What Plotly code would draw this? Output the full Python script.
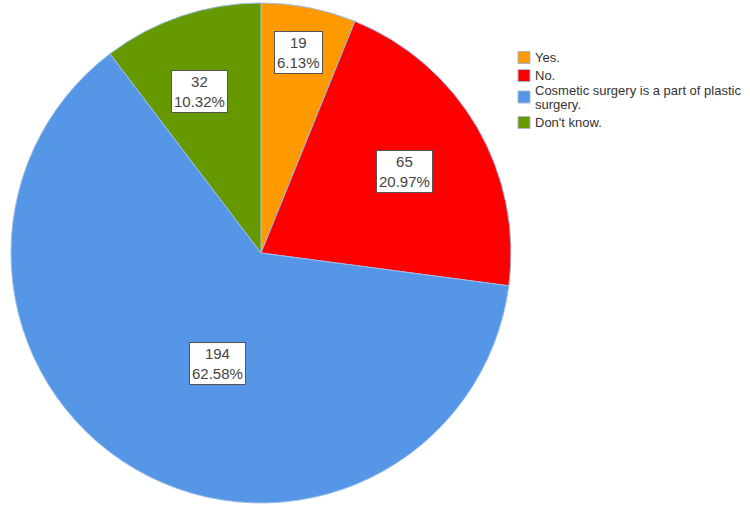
import math
import plotly.graph_objects as go

labels = ["Yes.", "No.", "Cosmetic surgery is a part of plastic<br>surgery.", "Don't know."]
counts = [19, 65, 194, 32]
percents = ["6.13%", "20.97%", "62.58%", "10.32%"]
colors = ["#FF9900", "#FF0000", "#5596E6", "#669900"]

# layout / style (pixels)
W, H = 750, 519
CX, CY, R = 261, 253, 250
label_radius_frac = [0.814, 0.66, 0.476, 0.69]
label_angle_offset = [-0.5, 0.4, -9.0, -2.2]  # degrees
legend_x = 518
legend_row_y = [57.5, 75.5, 97, 122.5]
legend_line_pitch = 14
SW = 12
FONT = "Liberation Sans, Arial, sans-serif"

fig = go.Figure()
fig.add_trace(go.Pie(
    labels=labels, values=counts, sort=False, direction="clockwise", rotation=0,
    marker=dict(colors=colors, line=dict(color="#9DBDE8", width=1)),
    textinfo="none", hoverinfo="label+value+percent", showlegend=False,
    domain=dict(x=[(CX - R) / W, (CX + R) / W], y=[1 - (CY + R) / H, 1 - (CY - R) / H]),
))

total = sum(counts)
cum = 0
for i, v in enumerate(counts):
    mid = (cum + v / 2) / total * 2 * math.pi + math.radians(label_angle_offset[i])
    cum += v
    r = R * label_radius_frac[i]
    px = CX + r * math.sin(mid)
    py = CY - r * math.cos(mid)
    fig.add_annotation(
        x=px / W, y=1 - py / H, xref="paper", yref="paper",
        xanchor="center", yanchor="middle",
        text=f"{counts[i]}<br>{percents[i]}", showarrow=False,
        font=dict(family=FONT, size=15, color="#444444"),
        bgcolor="white", bordercolor="#555555", borderwidth=1, borderpad=2,
        align="center",
    )

# custom compact legend
for i, lab in enumerate(labels):
    yc = legend_row_y[i]
    fig.add_shape(type="rect", xref="paper", yref="paper",
                  x0=legend_x / W, x1=(legend_x + SW) / W,
                  y0=1 - (yc + SW / 2) / H, y1=1 - (yc - SW / 2) / H,
                  fillcolor=colors[i], line=dict(color="#A9B8D0", width=1))
    lines = lab.split("<br>")
    n = len(lines)
    for j, ln in enumerate(lines):
        ly = yc + (j - (n - 1) / 2) * legend_line_pitch
        fig.add_annotation(x=(legend_x + SW + 3) / W, y=1 - ly / H, xref="paper", yref="paper",
                           xanchor="left", yanchor="middle", text=ln, showarrow=False,
                           font=dict(family=FONT, size=13, color="#333333"))

fig.update_layout(
    width=W, height=H, margin=dict(l=0, r=0, t=0, b=0),
    paper_bgcolor="white", plot_bgcolor="white", showlegend=False,
)
fig.write_html("out.html")
